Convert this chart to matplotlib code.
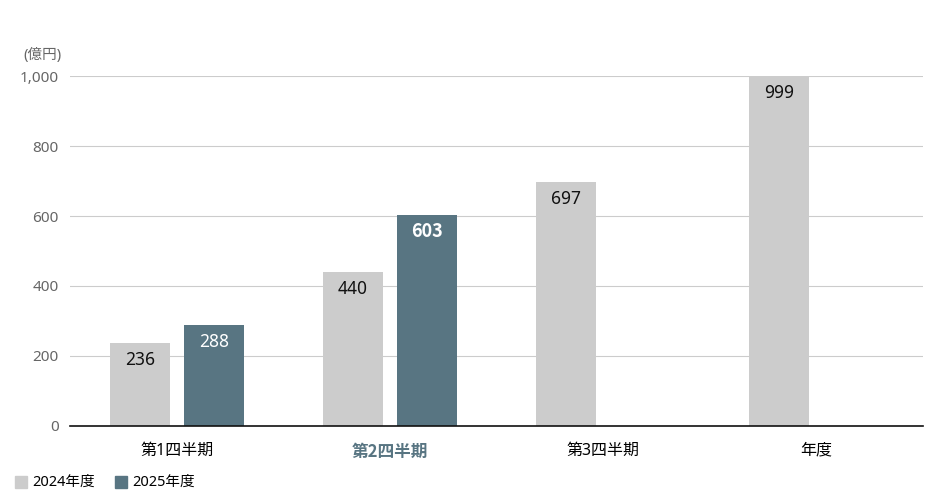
import matplotlib.pyplot as plt
import numpy as np

plt.rcParams['font.family'] = ['Noto Sans', 'Noto Sans CJK JP', 'DejaVu Sans']

categories = ['第1四半期', '第2四半期', '第3四半期', '年度']
values_2024 = [236, 440, 697, 999]
values_2025 = [288, 603, None, None]
series_names = ['2024年度', '2025年度']
yticks = [0, 200, 400, 600, 800, 1000]
ytick_labels = ['0', '200', '400', '600', '800', '1,000']

c2024 = '#cccccc'
c2025 = '#587582'

fig = plt.figure(figsize=(9.45, 4.91), dpi=100)
ax = fig.add_axes([0.0741, 0.1324, 0.9026, 0.7128])

x = np.arange(len(categories))
w = 0.281
off = 0.1735

for i, v in enumerate(values_2024):
    ax.bar(x[i] - off, v, w, color=c2024, zorder=2)
    ax.annotate(str(v), (x[i] - off, v), xytext=(0, -12), textcoords='offset points',
                ha='center', va='center', fontsize=12.5, color='#111111', zorder=3)
for i, v in enumerate(values_2025):
    if v is None:
        continue
    ax.bar(x[i] + off, v, w, color=c2025, zorder=2)
    if i == 1:
        # highlighted quarter: bold label
        ax.annotate(str(v), (x[i] + off, v), xytext=(0, -12), textcoords='offset points',
                    ha='center', va='center', fontsize=13, color='white',
                    family=['Noto Sans CJK JP'], fontweight='bold', zorder=3)
    else:
        ax.annotate(str(v), (x[i] + off, v), xytext=(0, -12), textcoords='offset points',
                    ha='center', va='center', fontsize=12.5, color='white', zorder=3)

ax.set_xlim(-0.5, len(categories) - 0.5)
ax.set_ylim(0, 1000)
ax.set_yticks(yticks)
ax.set_yticklabels(ytick_labels, color='#666666', fontsize=11)
ax.yaxis.grid(True, color='#cccccc', linewidth=0.8, zorder=0)
ax.set_xticks(x)
ax.set_xticklabels(categories, fontsize=11.5)
ax.get_xticklabels()[1].set_color(c2025)
ax.get_xticklabels()[1].set_family(['Noto Sans CJK JP'])
ax.get_xticklabels()[1].set_fontweight('bold')
ax.get_xticklabels()[1].set_fontsize(12)
ax.tick_params(axis='both', length=0)
ax.tick_params(axis='x', pad=12)
ax.tick_params(axis='y', pad=8)
for s in ['top', 'right', 'left']:
    ax.spines[s].set_visible(False)
ax.spines['bottom'].set_color('#111111')
ax.spines['bottom'].set_linewidth(1.2)
ax.spines['bottom'].set_zorder(4)

fig.text(0.065, 0.888, '(億円)', ha='right', va='center', fontsize=10.5, color='#666666')

# legend
fig.patches.append(plt.Rectangle((15 / 945, 1 - 488 / 491), 12 / 945, 12 / 491,
                                 transform=fig.transFigure, color=c2024))
fig.text(32 / 945, 1 - 482 / 491, series_names[0], va='center', fontsize=10.5)
fig.patches.append(plt.Rectangle((115 / 945, 1 - 488 / 491), 12 / 945, 12 / 491,
                                 transform=fig.transFigure, color=c2025))
fig.text(132 / 945, 1 - 482 / 491, series_names[1], va='center', fontsize=10.5)

fig.savefig('out.png', dpi=100)
